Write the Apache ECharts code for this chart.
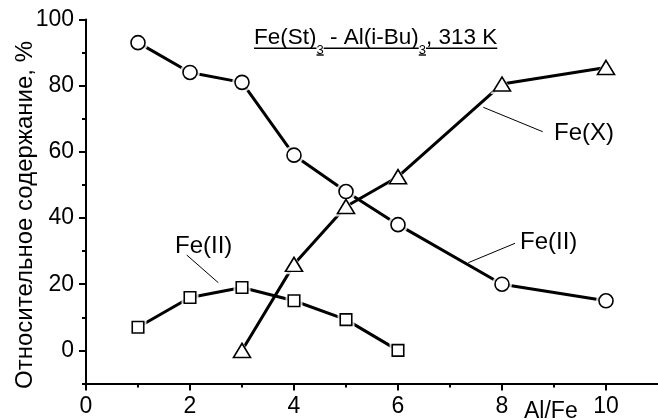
<!DOCTYPE html>
<html><head><meta charset="utf-8">
<script src="https://cdn.jsdelivr.net/npm/echarts@6/dist/echarts.min.js"></script>
<style>html,body{margin:0;padding:0;background:#fff}#c{width:658px;height:420px}</style>
</head><body><div id="c"></div>
<script>
// ---- data ----
const xCircles = [1, 2, 3, 4, 5, 6, 8, 10];
const yCircles = [93, 84, 81, 59, 48, 38, 20, 15];
const xTriangles = [3, 4, 5, 6, 8, 10];
const yTriangles = [0, 26, 43.5, 52.5, 80.5, 85.5];
const xSquares = [1, 2, 3, 4, 5, 6];
const ySquares = [7, 16, 19, 15, 9.3, 0];
const xMajorTicks = [0, 2, 4, 6, 8, 10];
const xMinorTicks = [1, 3, 5, 7, 9];
const yMajorTicks = [0, 20, 40, 60, 80, 100];
const yMinorTicks = [-10, 10, 30, 50, 70, 90];
const xRange = [0, 11];
const yRange = [-10, 100];
const yTitle = 'Относительное содержание, %';
const xTitle = 'Al/Fe';

const FONT = '"Liberation Sans", Arial, sans-serif';
const chart = echarts.init(document.getElementById('c'), null, {renderer: 'canvas'});

function pairs(xs, ys) { return xs.map((x, i) => [x, ys[i]]); }
const circles = pairs(xCircles, yCircles);
const triangles = pairs(xTriangles, yTriangles);
const squares = pairs(xSquares, ySquares);

const black = '#000';
function lineSeries(name, data) {
  return {name, type: 'line', data, symbol: 'none', z: 2, silent: true,
    lineStyle: {color: black, width: 3}, animation: false};
}
function halo(data, symbol, size) {
  return {type: 'scatter', data, symbol, symbolSize: size, z: 3, silent: true,
    itemStyle: {color: '#fff', borderWidth: 0}, animation: false};
}
function markers(name, data, symbol, size) {
  return {name, type: 'scatter', data, symbol, symbolSize: size, z: 4, silent: true,
    itemStyle: {color: '#fff', borderColor: black, borderWidth: 1.6, opacity: 1}, animation: false};
}

// title pieces (underlined, with subscripts)
const mainFs = 22.5, subFs = 13;
const titlePieces = [['Fe(St)', 0], ['3', 1], [' - Al(i-Bu)', 0], ['3', 1], [', 313 K', 0]];
const cv = document.createElement('canvas').getContext('2d');
let tx = 254;
const graphics = [];
titlePieces.forEach(([t, sub]) => {
  const fs = sub ? subFs : mainFs;
  cv.font = fs + 'px ' + FONT;
  const w = cv.measureText(t).width;
  graphics.push({type: 'text', x: tx, y: sub ? 50.3 : 37.9, silent: true,
    style: {text: t, font: fs + 'px ' + FONT, fill: black, align: 'left', verticalAlign: 'middle'}});
  const uy = sub ? 55 : 48.2;
  graphics.push({type: 'line', silent: true, shape: {x1: tx, y1: uy, x2: tx + w, y2: uy},
    style: {stroke: black, lineWidth: 1.4}});
  tx += w;
});

function label(t, x, y) {
  graphics.push({type: 'text', x, y, silent: true,
    style: {text: t, font: '24px ' + FONT, fill: black, align: 'left', verticalAlign: 'middle'}});
}
function leader(x1, y1, x2, y2) {
  graphics.push({type: 'line', silent: true, shape: {x1, y1, x2, y2},
    style: {stroke: black, lineWidth: 1}});
}
label('Fe(X)', 554, 133);
leader(483.3, 107.3, 542.7, 131.7);
label('Fe(II)', 520, 242);
leader(468.3, 262.7, 515, 243.3);
label('Fe(II)', 175, 246.7);
leader(186.7, 255, 218.3, 282.7);
graphics.push({type: 'text', x: 524, y: 411.5, silent: true,
  style: {text: xTitle, font: '23px ' + FONT, fill: black, align: 'left', verticalAlign: 'middle'}});
graphics.push({type: 'text', x: 25, y: 215, rotation: Math.PI / 2, silent: true,
  style: {text: yTitle, font: '24px ' + FONT, fill: black, align: 'center', verticalAlign: 'middle'}});

const tickStyle = {color: black, width: 2};
const option = {
  backgroundColor: '#fff',
  animation: false,
  grid: {left: 86, right: 0, top: 19.5, bottom: 36.5, containLabel: false},
  xAxis: [
    {type: 'value', min: xRange[0], max: xRange[1], position: 'bottom',
      axisLine: {show: true, onZero: false, lineStyle: {color: black, width: 2}},
      axisTick: {show: true, customValues: xMinorTicks, length: 4, inside: false, lineStyle: tickStyle},
      axisLabel: {show: false}, splitLine: {show: false}},
    {type: 'value', min: xRange[0], max: xRange[1], position: 'bottom',
      axisLine: {show: false, onZero: false},
      axisTick: {show: true, customValues: xMajorTicks, length: 7, inside: false, lineStyle: tickStyle},
      axisLabel: {show: true, customValues: xMajorTicks, margin: 12, color: black,
        fontFamily: FONT, fontSize: 23},
      splitLine: {show: false}}
  ],
  yAxis: [
    {type: 'value', min: yRange[0], max: yRange[1], position: 'left',
      axisLine: {show: true, onZero: false, lineStyle: {color: black, width: 2}},
      axisTick: {show: true, customValues: yMinorTicks, length: 4, inside: false, lineStyle: tickStyle},
      axisLabel: {show: false}, splitLine: {show: false}},
    {type: 'value', min: yRange[0], max: yRange[1], position: 'left',
      axisLine: {show: false, onZero: false},
      axisTick: {show: true, customValues: yMajorTicks, length: 7, inside: false, lineStyle: tickStyle},
      axisLabel: {show: true, customValues: yMajorTicks, margin: 12, color: black,
        fontFamily: FONT, fontSize: 23},
      splitLine: {show: false}}
  ],
  series: [
    lineSeries('Fe(II) ○', circles),
    lineSeries('Fe(X) △', triangles),
    lineSeries('Fe(II) □', squares),
    halo(circles, 'circle', 20),
    halo(triangles, 'triangle', [23, 20]),
    halo(squares, 'rect', 17),
    markers('Fe(II) ○', circles, 'circle', 14),
    markers('Fe(X) △', triangles, 'triangle', [17, 14]),
    markers('Fe(II) □', squares, 'rect', 11.5)
  ],
  graphic: graphics
};
chart.setOption(option);
</script>
</body></html>
